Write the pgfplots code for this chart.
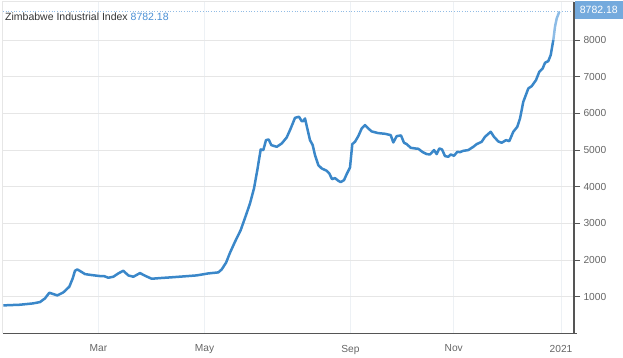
\documentclass[border=0pt]{standalone}
\usepackage{fontspec}
\setmainfont{Liberation Sans}
\usepackage{pgfplots}
\pgfplotsset{compat=1.18}
\definecolor{linec}{HTML}{3A87C9}
\definecolor{lightline}{HTML}{8DBCE6}
\definecolor{gridc}{HTML}{E6E6E6}
\definecolor{vgrid}{HTML}{EDF1F5}
\definecolor{axisc}{HTML}{555555}
\definecolor{tickc}{HTML}{666666}
\definecolor{boxc}{HTML}{74AADD}
\definecolor{valc}{HTML}{4A8FD4}
\begin{document}
\begin{tikzpicture}[x=1pt,y=1pt]
\path[use as bounding box] (0,0) rectangle (623,358);
\begin{axis}[
  at={(3pt,24.6pt)}, anchor=south west,
  scale only axis, width=571pt, height=331.4pt,
  xmin=3, xmax=574, ymin=0, ymax=9040,
  axis line style={draw=none},
  xtick={98.5,204.6,350.4,453.7,561},
  xticklabels={Mar,May,Sep,Nov,2021},
  xtick style={draw=none},
  ytick={1000,2000,3000,4000,5000,6000,7000,8000},
  ytick pos=right, yticklabel pos=right,
  tick align=outside, major tick length=6pt,
  ytick style={axisc, line width=1pt},
  xmajorgrids, ymajorgrids,
  x grid style={vgrid, line width=0.8pt},
  y grid style={gridc, line width=1pt},
  /pgf/number format/assume math mode=true,
  /pgf/number format/set thousands separator={},
  ticklabel style={font=\fontsize{10.2}{12}\selectfont, text=tickc},
  xticklabel style={yshift=-2pt},
  clip=false,
]
\draw[gridc, line width=1pt] (rel axis cs:0,0) -- (rel axis cs:0,1) -- (rel axis cs:1,1);
\draw[valc!60, dotted, line width=0.7pt] (axis cs:3,8782.18) -- (axis cs:574,8782.18);
\addplot[linec, line width=2.5pt, line join=round] coordinates {
(3.3,764) (20,782) (33,818) (40,855) (45,955) (49.3,1109) (53.3,1073) (57.3,1036)
(63.3,1118) (69.3,1273) (72.7,1500) (75,1709) (77.3,1745) (80.7,1691) (85,1618)
(91.7,1591) (100,1564) (104,1564) (108.3,1518) (113.3,1545) (118.3,1636) (123.3,1709)
(128.3,1582) (133.3,1545) (140,1645) (145,1573) (151.7,1491) (160,1509) (170,1527)
(183.3,1554) (196.7,1582) (208.3,1636) (218.3,1664) (221.7,1745) (226,1927) (230,2200)
(235,2500) (240.7,2818) (246,3227) (250,3545) (254,3954) (257.3,4454) (260.7,5018)
(263.3,5000) (266,5272) (268.7,5290) (271.3,5136) (276.7,5090) (281.7,5181) (286.7,5345)
(290.7,5590) (295,5881) (299,5909) (301.7,5790) (303.3,5790) (305,5863) (307.3,5590)
(310,5272) (312.7,5136) (315,4863) (318.3,4590) (321.7,4500) (326.7,4436) (329.3,4363)
(332,4209) (335,4236) (338.3,4163) (340.7,4127) (344,4181) (346.7,4345) (350,4527)
(352.3,5163) (355,5227) (358.3,5381) (361.7,5590) (365,5681) (368.3,5590) (371.7,5509)
(378.3,5463) (385,5445) (390.7,5409) (393.3,5209) (396.7,5381) (401,5400) (404,5200)
(406.7,5163) (410.7,5063) (415,5045) (418.3,5036) (422.7,4945) (426.7,4891) (430,4881)
(434,5000) (436.7,4891) (439.3,5045) (442,5018) (445,4836) (448.3,4818) (450.7,4881)
(454,4845) (457.3,4954) (460,4945) (463.3,4981) (468.3,5000) (473.3,5090) (476.7,5163)
(481.7,5227) (485,5363) (490.7,5500) (494,5363) (498.3,5236) (501.7,5200) (506,5272)
(509.3,5245) (513.3,5500) (517.3,5636) (520,5863) (523.3,6318) (528.3,6681) (531.7,6745)
(536,6909) (539.3,7137) (542.7,7229) (545,7382) (548.3,7428) (550.7,7592) (553.3,8001)
};
\addplot[lightline, line width=2.5pt, line join=round] coordinates {
(553.3,8001) (555,8364) (556.7,8593) (559.3,8773)
};
\draw[axisc, line width=1.2pt] (rel axis cs:0,0) -- (rel axis cs:1,0) -- ++(6pt,0);
\draw[axisc, line width=1.2pt] (rel axis cs:1,0) -- (rel axis cs:1,1);
\end{axis}
\fill[boxc] (574.5,339) rectangle (623,357);
\node[text=white, font=\fontsize{10.5}{12}\selectfont, inner sep=0pt] at (598.8,347.8) {8782.18};
\node[anchor=base west, inner sep=0pt, font=\fontsize{10.5}{12}\selectfont, text=black!80] at (5,337.8) {Zimbabwe Industrial Index \textcolor{valc}{8782.18}};
\end{tikzpicture}
\end{document}
